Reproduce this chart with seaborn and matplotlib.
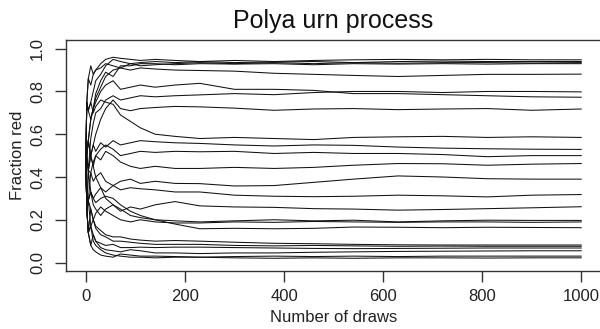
import numpy as np
import pandas as pd
import matplotlib
matplotlib.use("Agg")
import matplotlib.pyplot as plt
import seaborn as sns

draws = [0, 2, 5, 10, 15, 20, 30, 40, 55, 70, 90, 110, 140, 180, 230, 300,
         380, 460, 540, 630, 720, 810, 900, 1000]

# Fraction red for each simulated urn
path_01 = [0.5, 0.75, 0.86, 0.83, 0.88, 0.90, 0.93, 0.95, 0.96, 0.955, 0.95, 0.945, 0.95, 0.945, 0.94, 0.945, 0.94, 0.945, 0.948, 0.95, 0.948, 0.95, 0.948, 0.948]
path_02 = [0.5, 0.75, 0.71, 0.75, 0.80, 0.85, 0.88, 0.92, 0.95, 0.94, 0.93, 0.935, 0.94, 0.935, 0.94, 0.935, 0.938, 0.94, 0.935, 0.94, 0.942, 0.94, 0.94, 0.94]
path_03 = [0.5, 0.75, 0.71, 0.67, 0.72, 0.77, 0.82, 0.87, 0.90, 0.91, 0.93, 0.92, 0.925, 0.93, 0.935, 0.93, 0.935, 0.93, 0.935, 0.932, 0.935, 0.935, 0.933, 0.935]
path_04 = [0.5, 0.5, 0.57, 0.67, 0.72, 0.79, 0.85, 0.89, 0.87, 0.92, 0.92, 0.93, 0.93, 0.925, 0.93, 0.928, 0.93, 0.925, 0.93, 0.928, 0.93, 0.928, 0.93, 0.93]
path_05 = [0.5, 0.75, 0.86, 0.92, 0.88, 0.90, 0.91, 0.93, 0.92, 0.91, 0.90, 0.91, 0.905, 0.90, 0.898, 0.895, 0.885, 0.88, 0.875, 0.87, 0.875, 0.88, 0.88, 0.881]
path_06 = [0.5, 0.5, 0.57, 0.67, 0.72, 0.75, 0.80, 0.83, 0.85, 0.81, 0.82, 0.83, 0.82, 0.83, 0.838, 0.81, 0.81, 0.805, 0.79, 0.79, 0.785, 0.78, 0.775, 0.773]
path_07 = [0.5, 0.5, 0.43, 0.58, 0.65, 0.70, 0.72, 0.76, 0.78, 0.76, 0.77, 0.78, 0.775, 0.78, 0.784, 0.79, 0.785, 0.795, 0.80, 0.80, 0.795, 0.80, 0.80, 0.798]
path_08 = [0.5, 0.5, 0.57, 0.50, 0.55, 0.60, 0.67, 0.72, 0.76, 0.72, 0.71, 0.72, 0.725, 0.73, 0.728, 0.722, 0.712, 0.718, 0.72, 0.715, 0.718, 0.72, 0.712, 0.718]
path_09 = [0.5, 0.75, 0.71, 0.75, 0.70, 0.73, 0.76, 0.75, 0.74, 0.69, 0.66, 0.63, 0.60, 0.59, 0.58, 0.585, 0.58, 0.575, 0.585, 0.588, 0.59, 0.585, 0.588, 0.585]
path_10 = [0.5, 0.25, 0.43, 0.50, 0.55, 0.52, 0.56, 0.54, 0.57, 0.55, 0.56, 0.57, 0.565, 0.56, 0.557, 0.55, 0.545, 0.55, 0.548, 0.54, 0.535, 0.532, 0.53, 0.529]
path_11 = [0.5, 0.5, 0.57, 0.50, 0.45, 0.50, 0.53, 0.55, 0.53, 0.50, 0.51, 0.52, 0.515, 0.52, 0.518, 0.52, 0.51, 0.515, 0.51, 0.51, 0.505, 0.495, 0.50, 0.50]
path_12 = [0.5, 0.25, 0.29, 0.42, 0.47, 0.50, 0.48, 0.52, 0.50, 0.47, 0.45, 0.44, 0.45, 0.44, 0.44, 0.445, 0.44, 0.445, 0.455, 0.463, 0.462, 0.455, 0.46, 0.463]
path_13 = [0.5, 0.5, 0.43, 0.42, 0.38, 0.40, 0.42, 0.38, 0.36, 0.38, 0.39, 0.37, 0.38, 0.37, 0.369, 0.358, 0.36, 0.375, 0.39, 0.405, 0.40, 0.392, 0.39, 0.39]
path_14 = [0.5, 0.25, 0.29, 0.33, 0.30, 0.32, 0.35, 0.33, 0.36, 0.34, 0.35, 0.345, 0.34, 0.33, 0.33, 0.315, 0.31, 0.308, 0.31, 0.315, 0.312, 0.307, 0.315, 0.318]
path_15 = [0.5, 0.25, 0.43, 0.33, 0.27, 0.25, 0.22, 0.25, 0.27, 0.24, 0.26, 0.25, 0.27, 0.285, 0.265, 0.26, 0.258, 0.252, 0.25, 0.245, 0.248, 0.252, 0.256, 0.261]
path_16 = [0.5, 0.5, 0.43, 0.50, 0.45, 0.40, 0.35, 0.30, 0.27, 0.25, 0.22, 0.21, 0.20, 0.195, 0.19, 0.195, 0.20, 0.195, 0.198, 0.19, 0.195, 0.198, 0.197, 0.197]
path_17 = [0.5, 0.25, 0.14, 0.17, 0.20, 0.23, 0.26, 0.24, 0.22, 0.20, 0.19, 0.20, 0.19, 0.185, 0.185, 0.19, 0.188, 0.192, 0.19, 0.188, 0.19, 0.19, 0.188, 0.19]
path_18 = [0.5, 0.25, 0.29, 0.33, 0.30, 0.28, 0.30, 0.31, 0.30, 0.27, 0.24, 0.22, 0.20, 0.18, 0.158, 0.16, 0.158, 0.16, 0.166, 0.165, 0.163, 0.165, 0.164, 0.163]
path_19 = [0.5, 0.25, 0.14, 0.25, 0.20, 0.17, 0.15, 0.13, 0.12, 0.12, 0.11, 0.105, 0.10, 0.103, 0.10, 0.095, 0.09, 0.088, 0.085, 0.083, 0.082, 0.082, 0.082, 0.082]
path_20 = [0.5, 0.25, 0.29, 0.25, 0.20, 0.16, 0.13, 0.12, 0.10, 0.10, 0.095, 0.09, 0.085, 0.085, 0.085, 0.08, 0.078, 0.08, 0.078, 0.076, 0.077, 0.076, 0.076, 0.076]
path_21 = [0.5, 0.25, 0.14, 0.08, 0.13, 0.10, 0.09, 0.08, 0.085, 0.07, 0.07, 0.072, 0.07, 0.072, 0.072, 0.07, 0.068, 0.066, 0.065, 0.066, 0.067, 0.068, 0.068, 0.068]
path_22 = [0.5, 0.25, 0.14, 0.17, 0.13, 0.10, 0.07, 0.06, 0.055, 0.05, 0.06, 0.055, 0.045, 0.045, 0.042, 0.045, 0.045, 0.048, 0.05, 0.052, 0.053, 0.054, 0.055, 0.055]
path_23 = [0.5, 0.25, 0.14, 0.08, 0.06, 0.05, 0.035, 0.03, 0.025, 0.04, 0.035, 0.03, 0.03, 0.028, 0.025, 0.028, 0.03, 0.028, 0.03, 0.028, 0.03, 0.03, 0.03, 0.03]
path_24 = [0.5, 0.25, 0.29, 0.17, 0.10, 0.08, 0.06, 0.045, 0.035, 0.03, 0.025, 0.025, 0.022, 0.025, 0.025, 0.022, 0.02, 0.022, 0.02, 0.022, 0.022, 0.021, 0.022, 0.022]

paths = [path_01, path_02, path_03, path_04, path_05, path_06, path_07, path_08,
         path_09, path_10, path_11, path_12, path_13, path_14, path_15, path_16,
         path_17, path_18, path_19, path_20, path_21, path_22, path_23, path_24]

x_ticks = [0, 200, 400, 600, 800, 1000]
y_ticks = [0.0, 0.2, 0.4, 0.6, 0.8, 1.0]
y_tick_labels = ["0.0", "0.2", "0.4", "0.6", "0.8", "1.0"]

rows = []
for i, p in enumerate(paths):
    for n, v in zip(draws, p):
        rows.append({"urn": i, "draws": n, "frac": v})
df = pd.DataFrame(rows)

sns.set_theme(style="ticks")
plt.rcParams['font.family'] = ['Liberation Sans', 'DejaVu Sans']

fig = plt.figure(figsize=(6.0, 3.29), dpi=100)
ax = fig.add_axes([0.110, 0.176, 0.892, 0.702])

sns.lineplot(data=df, x="draws", y="frac", units="urn", estimator=None,
             color="#111111", linewidth=0.75, ax=ax, legend=False, sort=False)

ax.set_xlim(-40, 1040)
ax.set_ylim(-0.04, 1.04)
ax.set_xticks(x_ticks)
ax.set_xticklabels([str(t) for t in x_ticks], fontsize=12, color="#222222")
ax.set_yticks(y_ticks)
ax.set_yticklabels(y_tick_labels, fontsize=12, rotation=90, va="center",
                   color="#222222")
ax.tick_params(axis="x", direction="out", length=8, width=1.0,
               color="#333333", pad=5)
ax.tick_params(axis="y", direction="out", length=8, width=1.0,
               color="#333333", pad=7)
for s in ax.spines.values():
    s.set_visible(True)
    s.set_color("#333333")
    s.set_linewidth(1.0)

ax.set_xlabel("Number of draws", fontsize=12, color="#222222", labelpad=4)
ax.set_ylabel("Fraction red", fontsize=12, color="#222222", labelpad=4)
ax.set_title("Polya urn process", fontsize=18, color="#111111", pad=9)

fig.savefig("out.png", dpi=100)
